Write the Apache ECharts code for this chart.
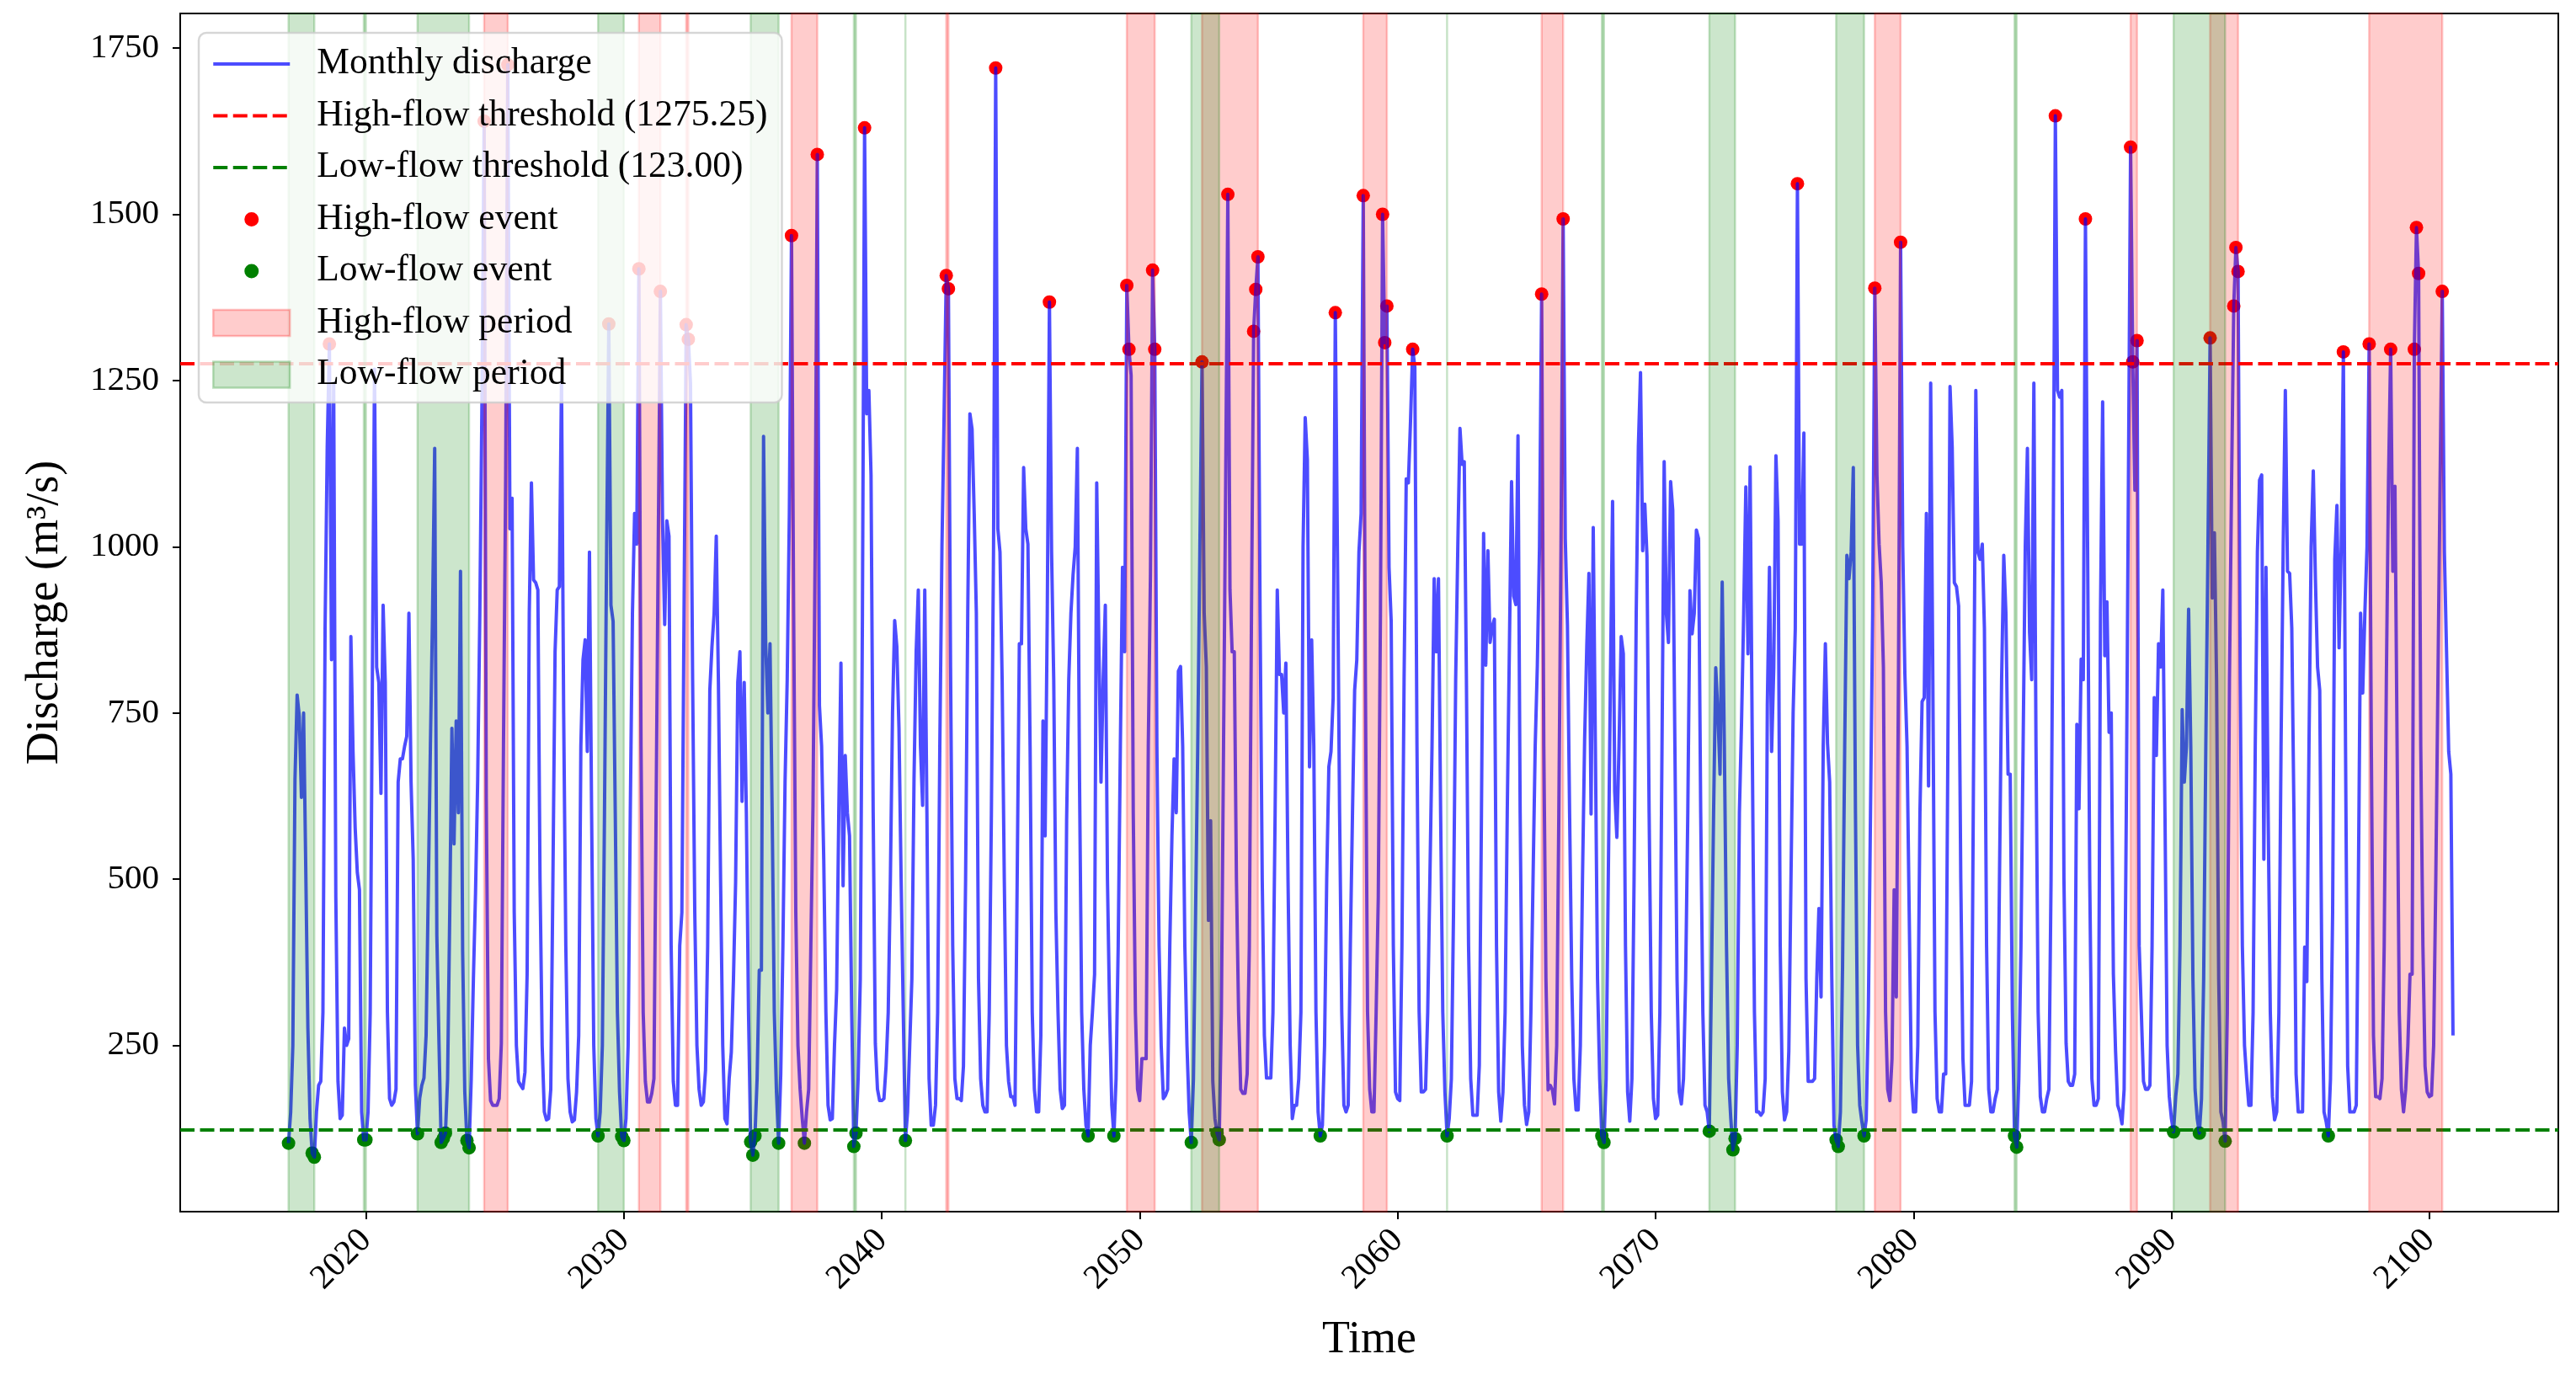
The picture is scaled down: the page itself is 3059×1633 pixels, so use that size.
<!DOCTYPE html>
<html>
<head>
<meta charset="utf-8">
<script src="https://cdn.jsdelivr.net/npm/echarts@6/dist/echarts.min.js"></script>
<style>
html,body{margin:0;padding:0;background:#ffffff;}
#chart{width:3059px;height:1633px;}
</style>
</head>
<body>
<div id="chart"></div>
<script>
// ---------------- DATA ----------------
const START_YEAR = 2017;           // first month = January 2017, monthly steps
const HIGH_THRESHOLD = 1275.25;
const LOW_THRESHOLD = 123.00;

// Monthly discharge (m3/s), one row per year, Jan..Dec
const discharge = [
  103,150,250,650,777,745,623,750,520,276,140,88,      // 2017
  82,150,190,196,300,877,1150,1305,830,1246,473,196,   // 2018
  140,145,276,250,260,865,692,577,510,484,150,108,     // 2019
  108,150,300,800,1267,819,796,629,912,796,300,170,    // 2020
  160,165,184,646,681,681,700,715,900,646,530,190,     // 2021
  117,170,190,201,265,480,700,900,1148,415,253,104,    // 2022
  110,118,200,450,727,553,738,600,963,392,180,107,     // 2023
  96,200,350,480,650,900,1223,1640,620,230,167,160,    // 2024
  160,160,170,253,700,1100,1725,1027,1073,450,250,196, // 2025
  190,185,210,357,900,1096,950,946,935,500,250,150,    // 2026
  138,140,184,500,842,935,940,1250,750,400,200,150,    // 2027
  135,138,180,265,700,830,860,692,992,600,250,140,     // 2028
  114,150,250,600,1000,1335,912,888,600,300,180,113,   // 2029
  107,140,250,600,900,1050,1004,1418,700,300,196,165,  // 2030
  165,178,200,600,1000,1384,1039,883,1039,1016,400,196,// 2031
  160,160,400,450,900,1334,1312,1246,800,450,250,184,  // 2032
  160,165,213,400,784,850,900,1016,796,500,250,140,    // 2033
  132,200,240,350,496,796,842,617,796,600,300,105,     // 2034
  85,114,200,363,363,1166,854,750,854,600,300,180,     // 2035
  103,207,400,646,800,1050,1468,900,450,250,184,140,   // 2036
  103,150,184,400,611,1000,1590,761,700,530,300,160,   // 2037
  138,140,250,334,600,825,490,686,600,565,300,98,      // 2038
  118,200,350,900,1630,1200,1235,1108,600,253,184,167, // 2039
  167,170,219,300,500,750,889,850,727,500,300,107,     // 2040
  150,250,350,650,842,935,700,611,935,600,200,130,     // 2041
  130,160,300,700,1000,1200,1408,1388,819,400,200,170, // 2042
  170,167,219,500,900,1200,1177,1050,900,350,200,160,  // 2043
  150,150,300,600,1000,1720,1027,992,800,500,250,196,  // 2044
  173,173,160,500,854,854,1119,1027,1004,700,300,184,  // 2045
  150,150,265,738,565,900,1368,992,800,450,300,184,    // 2046
  155,160,588,800,900,958,1000,1148,650,300,184,130,   // 2047
  114,250,300,357,1096,854,646,800,912,500,300,160,    // 2048
  114,200,400,700,969,842,1393,1297,1258,600,300,184,  // 2049
  167,230,230,230,700,958,1416,1297,700,400,250,170,   // 2050
  175,184,400,565,681,600,813,820,700,400,250,150,     // 2051
  104,200,450,700,1000,1278,900,819,438,588,196,140,   // 2052
  118,108,300,700,1100,1530,935,842,842,500,300,184,   // 2053
  178,178,207,400,900,1324,1387,1436,900,500,265,201,  // 2054
  201,201,300,600,935,808,808,750,825,500,250,140,     // 2055
  160,160,200,300,1000,1194,1131,669,860,700,300,150,  // 2056
  114,130,250,500,669,692,773,1352,992,600,300,160,    // 2057
  150,160,400,600,784,830,992,1050,1528,800,300,184,   // 2058
  150,150,300,473,900,1500,1307,1362,969,888,400,180,  // 2059
  170,167,400,800,1102,1096,1189,1297,1270,700,300,180,// 2060
  180,184,300,500,700,952,842,952,600,300,180,114,     // 2061
  140,200,450,800,1000,1178,1124,1128,800,400,200,145, // 2062
  145,145,220,600,1020,822,994,856,880,891,400,180,    // 2063
  136,180,300,600,850,1098,926,913,1167,600,250,160,   // 2064
  131,150,300,500,700,822,1000,1380,700,350,183,190,   // 2065
  183,162,250,600,1000,1493,1012,882,600,350,200,153,  // 2066
  153,250,500,710,850,960,598,1029,700,350,200,114,    // 2067
  104,200,500,800,1068,632,563,700,865,839,400,180,    // 2068
  136,200,500,900,1150,1262,994,1064,986,600,300,170,  // 2069
  140,145,300,700,1128,900,856,1098,1055,700,350,180,  // 2070
  162,200,350,600,934,869,900,1025,1012,600,300,160,   // 2071
  150,121,350,600,818,750,658,947,700,400,200,140,     // 2072
  93,110,250,600,736,900,1090,839,1120,700,300,150,    // 2073
  150,145,150,200,761,969,692,819,1137,1039,400,180,   // 2074
  138,150,242,500,750,877,1546,1004,1004,1171,350,196, // 2075
  196,196,200,350,456,323,700,854,704,646,350,130,     // 2076
  108,98,150,369,700,987,952,992,1119,600,250,160,     // 2077
  135,114,138,300,600,900,1389,1108,1004,946,819,300,  // 2078
  184,167,230,484,323,800,1458,1000,808,700,450,200,   // 2079
  150,150,250,600,767,773,1050,640,1246,800,300,170,   // 2080
  150,150,207,207,700,1241,1150,946,940,911,500,230,   // 2081
  160,160,160,196,700,1235,992,981,1004,877,400,184,   // 2082
  150,150,170,184,500,800,987,900,658,658,300,114,     // 2083
  97,200,400,700,1000,1148,871,800,1246,700,300,173,   // 2084
  150,150,170,184,500,1000,1648,1235,1225,1235,500,253,// 2085
  196,190,190,207,733,606,831,800,1493,1000,500,200,   // 2086
  160,160,170,900,1218,836,917,721,750,357,242,160,    // 2087
  150,132,184,600,1100,1601,1278,1085,1310,400,300,196,// 2088
  184,184,190,400,773,686,854,819,935,600,250,173,     // 2089
  140,120,173,207,400,755,646,700,906,700,350,184,     // 2090
  140,118,170,350,700,1000,1314,923,1021,800,350,150,  // 2091
  135,106,300,800,1100,1362,1450,1414,800,400,250,201, // 2092
  160,160,300,700,992,1100,1108,530,969,600,300,173,   // 2093
  138,150,300,700,1000,1235,963,960,877,600,207,150,   // 2094
  150,150,398,346,700,1000,1114,950,819,784,350,150,   // 2095
  135,114,200,450,981,1062,848,1000,1293,700,219,150,  // 2096
  150,150,160,500,900,780,900,1000,1305,700,265,173,   // 2097
  173,170,200,400,800,1100,1297,963,1091,700,300,184,  // 2098
  150,184,250,357,357,1297,1480,1411,700,400,219,180,  // 2099
  173,175,250,500,800,1100,1384,992,842,692,658,265    // 2100
];

// Periods as [first month, last month]
const highPeriods = [
  ['2024-08','2025-07'], ['2030-08','2031-06'], ['2032-06','2032-07'],
  ['2036-07','2037-07'], ['2042-07','2042-08'], ['2049-07','2050-08'],
  ['2052-06','2054-08'], ['2058-09','2059-08'], ['2065-08','2066-06'],
  ['2078-07','2079-07'], ['2088-06','2088-09'], ['2091-07','2092-08'],
  ['2097-09','2100-07']
];
const lowPeriods = [
  ['2017-01','2018-01'], ['2019-12','2020-01'], ['2022-01','2024-01'],
  ['2029-01','2030-01'], ['2034-12','2036-01'], ['2038-12','2039-01'],
  ['2040-12','2040-12'], ['2052-01','2053-02'], ['2061-12','2061-12'],
  ['2067-12','2068-01'], ['2072-02','2073-02'], ['2077-01','2078-02'],
  ['2083-12','2084-01'], ['2090-02','2092-02']
];

const xTicks = [2020, 2030, 2040, 2050, 2060, 2070, 2080, 2090, 2100];
const yTicks = [250, 500, 750, 1000, 1250, 1500, 1750];

// ---------------- DERIVED ----------------
const timeOf = i => START_YEAR + i / 12;
const ym = s => { const p = s.split('-').map(Number); return p[0] + (p[1] - 1) / 12; };
const lineData = discharge.map((v, i) => [timeOf(i), v]);
const highEvents = lineData.filter(d => d[1] > HIGH_THRESHOLD);
const lowEvents = lineData.filter(d => d[1] < LOW_THRESHOLD);
const toAreas = ps => ps.map(p => [{ xAxis: ym(p[0]) }, { xAxis: ym(p[1]) }]);

const FONT = "'Liberation Serif', 'Times New Roman', serif";
const NAME_LINE = 'Monthly discharge';
const NAME_HT = 'High-flow threshold (' + HIGH_THRESHOLD.toFixed(2) + ')';
const NAME_LT = 'Low-flow threshold (' + LOW_THRESHOLD.toFixed(2) + ')';
const NAME_HE = 'High-flow event';
const NAME_LE = 'Low-flow event';
const NAME_HP = 'High-flow period';
const NAME_LP = 'Low-flow period';

const BLUE = 'rgba(0,0,255,0.7)';
const RED_FILL = 'rgba(255,0,0,0.2)';
const GREEN_FILL = 'rgba(0,128,0,0.2)';

// legend icons (bounding box 91 x 31 fixed by two zero-length segments)
const BOX = 'M0,0L0.01,0M91,31L90.99,31';
const ICON_SOLID = 'path://' + BOX + 'M0,13.5h91v4h-91z';
const ICON_DASH = 'path://' + BOX + 'M0,13.5h17v4h-17zM23.5,13.5h17v4h-17zM47,13.5h17v4h-17zM70.5,13.5h17v4h-17z';
const ICON_DOT = 'path://' + BOX + 'M37,15.5A8.5,8.5,0,1,1,54,15.5A8.5,8.5,0,1,1,37,15.5Z';

const chart = echarts.init(document.getElementById('chart'), null, { renderer: 'canvas', width: 3059, height: 1633 });

const option = {
  animation: false,
  backgroundColor: '#ffffff',
  grid: { left: 214, right: 21, top: 16, bottom: 194, show: true, borderColor: '#000', borderWidth: 2, backgroundColor: 'transparent' },
  xAxis: {
    type: 'value', min: 2012.8, max: 2105.0,
    name: 'Time', nameLocation: 'middle', nameGap: 126,
    nameTextStyle: { fontFamily: FONT, fontSize: 54, color: '#000' },
    axisLine: { show: true, onZero: false, lineStyle: { color: '#000', width: 2 } },
    axisTick: { show: true, customValues: xTicks, length: 9, lineStyle: { color: '#000', width: 2 } },
    axisLabel: { customValues: xTicks, rotate: 45, margin: 28, fontFamily: FONT, fontSize: 41, color: '#000', formatter: v => String(v) },
    splitLine: { show: false }
  },
  yAxis: {
    type: 'value', min: 0, max: 1802,
    name: 'Discharge (m\u00b3/s)', nameLocation: 'middle', nameGap: 133,
    nameTextStyle: { fontFamily: FONT, fontSize: 54, color: '#000' },
    axisLine: { show: true, onZero: false, lineStyle: { color: '#000', width: 2 } },
    axisTick: { show: true, customValues: yTicks, length: 9, lineStyle: { color: '#000', width: 2 } },
    axisLabel: { customValues: yTicks, margin: 25, fontFamily: FONT, fontSize: 41, color: '#000', formatter: v => String(v) },
    splitLine: { show: false }
  },
  legend: {
    orient: 'vertical', left: 236, top: 39,
    padding: [15, 17, 11, 16],
    itemGap: 17.5, itemWidth: 91, itemHeight: 31,
    backgroundColor: 'rgba(255,255,255,0.8)',
    borderColor: 'rgba(204,204,204,0.8)', borderWidth: 2.5, borderRadius: 9,
    selectedMode: false, z: 10,
    textStyle: { fontFamily: FONT, fontSize: 43.5, color: '#000', lineHeight: 44, padding: [0, 0, 0, 27] },
    data: [
      { name: NAME_LINE, icon: ICON_SOLID, itemStyle: { color: BLUE, borderWidth: 0 } },
      { name: NAME_HT, icon: ICON_DASH, itemStyle: { color: '#ff0000', borderWidth: 0 } },
      { name: NAME_LT, icon: ICON_DASH, itemStyle: { color: '#008000', borderWidth: 0 } },
      { name: NAME_HE, icon: ICON_DOT, itemStyle: { color: '#ff0000', borderWidth: 0 } },
      { name: NAME_LE, icon: ICON_DOT, itemStyle: { color: '#008000', borderWidth: 0 } },
      { name: NAME_HP, icon: 'rect', itemStyle: { color: RED_FILL, borderColor: 'rgba(255,0,0,0.25)', borderWidth: 2.5 } },
      { name: NAME_LP, icon: 'rect', itemStyle: { color: GREEN_FILL, borderColor: 'rgba(0,128,0,0.25)', borderWidth: 2.5 } }
    ]
  },
  series: [
    {
      name: NAME_LINE, type: 'line', data: lineData, z: 3,
      symbol: 'none', showSymbol: false, sampling: null, silent: true,
      lineStyle: { color: BLUE, width: 4, join: 'round' },
      itemStyle: { color: BLUE }
    },
    {
      name: NAME_HT, type: 'line', data: [], symbol: 'none', silent: true,
      lineStyle: { color: '#ff0000', width: 4, type: [17, 6.5] }, itemStyle: { color: '#ff0000' },
      markLine: {
        silent: true, symbol: ['none', 'none'], z: 4, animation: false,
        label: { show: false },
        lineStyle: { color: '#ff0000', width: 4, type: [17, 6.5] },
        emphasis: { disabled: true },
        data: [{ yAxis: HIGH_THRESHOLD }]
      }
    },
    {
      name: NAME_LT, type: 'line', data: [], symbol: 'none', silent: true,
      lineStyle: { color: '#008000', width: 4, type: [17, 6.5] }, itemStyle: { color: '#008000' },
      markLine: {
        silent: true, symbol: ['none', 'none'], z: 4, animation: false,
        label: { show: false },
        lineStyle: { color: '#008000', width: 4, type: [17, 6.5] },
        emphasis: { disabled: true },
        data: [{ yAxis: LOW_THRESHOLD }]
      }
    },
    {
      name: NAME_HE, type: 'scatter', data: highEvents, z: 2, silent: true,
      symbol: 'circle', symbolSize: 16, itemStyle: { color: '#ff0000', opacity: 1 }
    },
    {
      name: NAME_LE, type: 'scatter', data: lowEvents, z: 2, silent: true,
      symbol: 'circle', symbolSize: 16, itemStyle: { color: '#008000', opacity: 1 }
    },
    {
      name: NAME_HP, type: 'line', data: [], symbol: 'none', silent: true,
      itemStyle: { color: RED_FILL }, lineStyle: { color: RED_FILL },
      markArea: {
        silent: true, z: 5, animation: false,
        itemStyle: { color: RED_FILL, borderColor: 'rgba(255,0,0,0.22)', borderWidth: 2.5 },
        emphasis: { disabled: true },
        data: toAreas(highPeriods)
      }
    },
    {
      name: NAME_LP, type: 'line', data: [], symbol: 'none', silent: true,
      itemStyle: { color: GREEN_FILL }, lineStyle: { color: GREEN_FILL },
      markArea: {
        silent: true, z: 5, animation: false,
        itemStyle: { color: GREEN_FILL, borderColor: 'rgba(0,128,0,0.22)', borderWidth: 2.5 },
        emphasis: { disabled: true },
        data: toAreas(lowPeriods)
      }
    }
  ]
};
chart.setOption(option);
</script>
</body>
</html>
